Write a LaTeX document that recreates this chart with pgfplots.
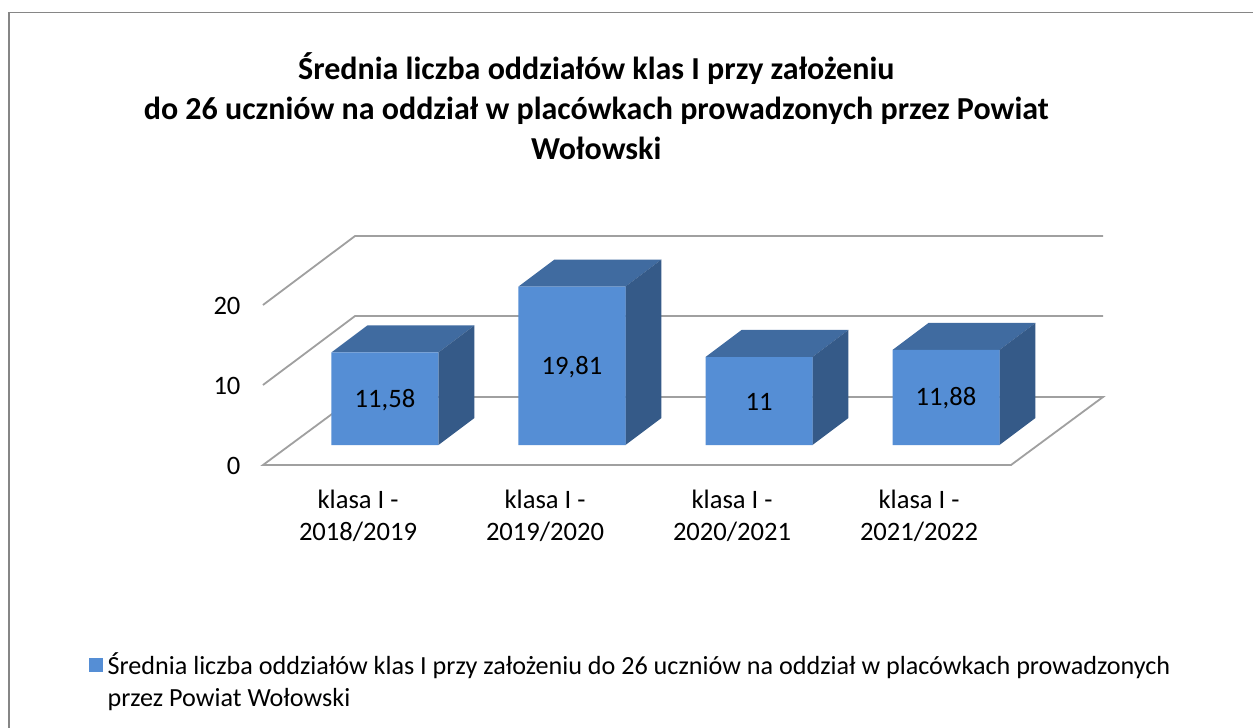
\documentclass[border=0pt]{standalone}
\usepackage{fontspec}
\setmainfont{Carlito}
\usepackage{pgfplots}
\usepackage{pgfplotstable}
\pgfplotsset{compat=1.18}
\definecolor{frontc}{HTML}{558ED5}
\definecolor{topc}{HTML}{406BA0}
\definecolor{sidec}{HTML}{355A88}
\definecolor{gridc}{HTML}{A0A0A0}
\definecolor{framec}{HTML}{868686}

\pgfplotstableread{
x v label
0 11.58 {11,58}
1 19.81 {19,81}
2 11 {11}
3 11.88 {11,88}
}\bars

% top and side of one bar: x position, value
\newcommand{\barfaces}[2]{%
  \pgfmathsetmacro{\xa}{#1-0.286}\pgfmathsetmacro{\xb}{#1+0.286}%
  \pgfmathsetmacro{\xc}{#1+0.286+0.1925}\pgfmathsetmacro{\xd}{#1-0.286+0.1925}%
  \pgfmathsetmacro{\yt}{#2+3.375}%
  \edef\tmp{\noexpand\addplot[fill=topc,draw=none,mark=none,forget plot] coordinates {(\xa,#2) (\xb,#2) (\xc,\yt) (\xd,\yt)};
    \noexpand\addplot[fill=sidec,draw=none,mark=none,forget plot] coordinates {(\xb,0) (\xc,3.375) (\xc,\yt) (\xb,#2)};}%
  \tmp}

\begin{document}
\begin{tikzpicture}[x=1pt,y=1pt]
\useasboundingbox (-263,-263) rectangle (990,465);
\fill[white] (-263,-263) rectangle (990,465);
\draw[framec,line width=2pt] (-254,-263) -- (-254,452);
\draw[framec,line width=1.3pt] (-255,452.5) -- (990,452.5);
\begin{axis}[x=187pt,y=8pt,
  xmin=-0.6524,xmax=3.8396,ymin=-2.5,ymax=26.125,
  clip=false,axis line style={draw=none},major tick length=0pt,
  xtick={-0.144,0.856,1.856,2.856},
  xticklabels={{klasa I -\\2018/2019},{klasa I -\\2019/2020},{klasa I -\\2020/2021},{klasa I -\\2021/2022}},
  ytick={-2.5,7.5,17.5},yticklabels={0,10,20},
  tick label style={font=\fontsize{26.6pt}{32pt}\selectfont},
  xticklabel style={align=center,yshift=-21pt},
  yticklabel style={xshift=-19pt,yshift=-1pt},
  title={Średnia liczba oddziałów klas I przy założeniu\\do 26 uczniów na oddział w placówkach prowadzonych przez Powiat\\Wołowski},
  title style={at={(axis cs:1.130,41.6)},anchor=center,align=center,
    font=\fontsize{32pt}{40pt}\selectfont\bfseries},
  legend style={at={(axis cs:-1.585,-25.7)},anchor=north west,draw=none,fill=none,
    font=\fontsize{26.15pt}{32pt}\selectfont,inner sep=0pt,outer sep=0pt},
  legend cell align=left,
  legend image code/.code={\fill[frontc] (-6.5pt,-7.5pt) rectangle (7.5pt,6.5pt);\path (10.5pt,0pt);}]

% walls and floor
\addplot[gridc,line width=1.8pt,mark=none,forget plot] coordinates {(-0.6524,17.5) (-0.1604,26.125) (3.8396,26.125)};
\addplot[gridc,line width=1.8pt,mark=none,forget plot] coordinates {(-0.6524,7.5) (-0.1604,16.125) (3.8396,16.125)};
\addplot[gridc,line width=1.8pt,mark=none,forget plot] coordinates {(-0.1604,6) (-0.6524,-2.5) (3.3476,-2.5) (3.8396,6) (-0.1604,6)};

\barfaces{0}{11.58}
\barfaces{1}{19.81}
\barfaces{2}{11}
\barfaces{3}{11.88}

\addplot[ybar,bar width=107pt,fill=frontc,draw=none] table[x=x,y=v] {\bars};
\addlegendentry{\parbox[t]{1100pt}{Średnia liczba oddziałów klas I przy założeniu do 26 uczniów na oddział w placówkach prowadzonych\\przez Powiat Wołowski}}

\addplot[draw=none,mark=none,forget plot,point meta=explicit symbolic,
  nodes near coords,
  every node near coord/.style={anchor=center,yshift=-1pt,font=\fontsize{26.6pt}{32pt}\selectfont,text=black}]
  table[x=x,y expr=\thisrow{v}/2,meta=label] {\bars};
\end{axis}
\end{tikzpicture}
\end{document}
